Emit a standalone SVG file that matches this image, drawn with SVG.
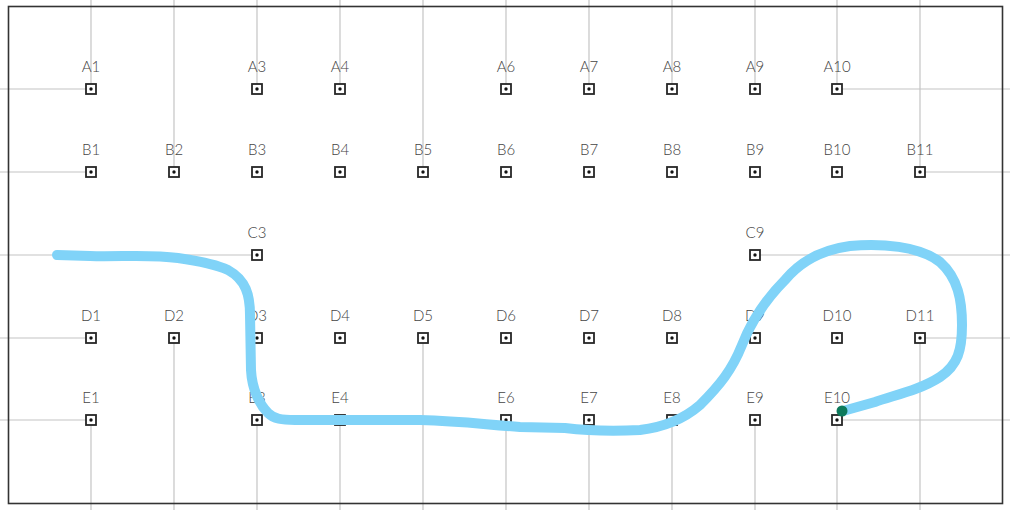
<svg xmlns="http://www.w3.org/2000/svg" width="1010" height="510" viewBox="0 0 1010 510">
<style>
.bg{fill:#ffffff}
.frame{fill:none;stroke:#333333;stroke-width:1.6}
.grid line{stroke:#c4c4c4;stroke-width:1.2}
.node text{font-family:Lato,"Liberation Sans",sans-serif;font-size:15px;font-weight:300;fill:#444444;text-anchor:middle}
.route{fill:none;stroke:#80d3f8;stroke-width:10;stroke-linecap:round;stroke-linejoin:round}
.end{fill:#0d7a5c}
</style>
<defs>
<g id="pin"><rect x="-5" y="-5" width="10" height="10" fill="#ffffff" stroke="#262626" stroke-width="1.8"/><circle r="1.7" fill="#111111"/></g>
</defs>
<rect class="bg" x="0" y="0" width="1010" height="510"/>
<g id="connectors" class="grid">
<line x1="91" y1="0" x2="91" y2="89"/>
<line x1="174" y1="0" x2="174" y2="172"/>
<line x1="257" y1="0" x2="257" y2="89"/>
<line x1="340" y1="0" x2="340" y2="89"/>
<line x1="423" y1="0" x2="423" y2="172"/>
<line x1="506" y1="0" x2="506" y2="89"/>
<line x1="589" y1="0" x2="589" y2="89"/>
<line x1="672" y1="0" x2="672" y2="89"/>
<line x1="755" y1="0" x2="755" y2="89"/>
<line x1="837" y1="0" x2="837" y2="89"/>
<line x1="920" y1="0" x2="920" y2="172"/>
<line x1="91" y1="420" x2="91" y2="510"/>
<line x1="174" y1="338" x2="174" y2="510"/>
<line x1="257" y1="420" x2="257" y2="510"/>
<line x1="340" y1="420" x2="340" y2="510"/>
<line x1="423" y1="338" x2="423" y2="510"/>
<line x1="506" y1="420" x2="506" y2="510"/>
<line x1="589" y1="420" x2="589" y2="510"/>
<line x1="672" y1="420" x2="672" y2="510"/>
<line x1="755" y1="420" x2="755" y2="510"/>
<line x1="837" y1="420" x2="837" y2="510"/>
<line x1="920" y1="338" x2="920" y2="510"/>
<line x1="0" y1="89" x2="91" y2="89"/>
<line x1="0" y1="172" x2="91" y2="172"/>
<line x1="0" y1="255" x2="257" y2="255"/>
<line x1="0" y1="338" x2="91" y2="338"/>
<line x1="0" y1="420" x2="91" y2="420"/>
<line x1="837" y1="89" x2="1010" y2="89"/>
<line x1="920" y1="172" x2="1010" y2="172"/>
<line x1="755" y1="255" x2="1010" y2="255"/>
<line x1="920" y1="338" x2="1010" y2="338"/>
<line x1="837" y1="420" x2="1010" y2="420"/>
</g>
<rect class="frame" x="8.5" y="6.5" width="994" height="497"/>
<g id="nodes">
<g id="A1" class="node" transform="translate(91,89)"><use href="#pin"/><text y="-17">A1</text></g>
<g id="A3" class="node" transform="translate(257,89)"><use href="#pin"/><text y="-17">A3</text></g>
<g id="A4" class="node" transform="translate(340,89)"><use href="#pin"/><text y="-17">A4</text></g>
<g id="A6" class="node" transform="translate(506,89)"><use href="#pin"/><text y="-17">A6</text></g>
<g id="A7" class="node" transform="translate(589,89)"><use href="#pin"/><text y="-17">A7</text></g>
<g id="A8" class="node" transform="translate(672,89)"><use href="#pin"/><text y="-17">A8</text></g>
<g id="A9" class="node" transform="translate(755,89)"><use href="#pin"/><text y="-17">A9</text></g>
<g id="A10" class="node" transform="translate(837,89)"><use href="#pin"/><text y="-17">A10</text></g>
<g id="B1" class="node" transform="translate(91,172)"><use href="#pin"/><text y="-17">B1</text></g>
<g id="B2" class="node" transform="translate(174,172)"><use href="#pin"/><text y="-17">B2</text></g>
<g id="B3" class="node" transform="translate(257,172)"><use href="#pin"/><text y="-17">B3</text></g>
<g id="B4" class="node" transform="translate(340,172)"><use href="#pin"/><text y="-17">B4</text></g>
<g id="B5" class="node" transform="translate(423,172)"><use href="#pin"/><text y="-17">B5</text></g>
<g id="B6" class="node" transform="translate(506,172)"><use href="#pin"/><text y="-17">B6</text></g>
<g id="B7" class="node" transform="translate(589,172)"><use href="#pin"/><text y="-17">B7</text></g>
<g id="B8" class="node" transform="translate(672,172)"><use href="#pin"/><text y="-17">B8</text></g>
<g id="B9" class="node" transform="translate(755,172)"><use href="#pin"/><text y="-17">B9</text></g>
<g id="B10" class="node" transform="translate(837,172)"><use href="#pin"/><text y="-17">B10</text></g>
<g id="B11" class="node" transform="translate(920,172)"><use href="#pin"/><text y="-17">B11</text></g>
<g id="C3" class="node" transform="translate(257,255)"><use href="#pin"/><text y="-17">C3</text></g>
<g id="C9" class="node" transform="translate(755,255)"><use href="#pin"/><text y="-17">C9</text></g>
<g id="D1" class="node" transform="translate(91,338)"><use href="#pin"/><text y="-17">D1</text></g>
<g id="D2" class="node" transform="translate(174,338)"><use href="#pin"/><text y="-17">D2</text></g>
<g id="D3" class="node" transform="translate(257,338)"><use href="#pin"/><text y="-17">D3</text></g>
<g id="D4" class="node" transform="translate(340,338)"><use href="#pin"/><text y="-17">D4</text></g>
<g id="D5" class="node" transform="translate(423,338)"><use href="#pin"/><text y="-17">D5</text></g>
<g id="D6" class="node" transform="translate(506,338)"><use href="#pin"/><text y="-17">D6</text></g>
<g id="D7" class="node" transform="translate(589,338)"><use href="#pin"/><text y="-17">D7</text></g>
<g id="D8" class="node" transform="translate(672,338)"><use href="#pin"/><text y="-17">D8</text></g>
<g id="D9" class="node" transform="translate(755,338)"><use href="#pin"/><text y="-17">D9</text></g>
<g id="D10" class="node" transform="translate(837,338)"><use href="#pin"/><text y="-17">D10</text></g>
<g id="D11" class="node" transform="translate(920,338)"><use href="#pin"/><text y="-17">D11</text></g>
<g id="E1" class="node" transform="translate(91,420)"><use href="#pin"/><text y="-17">E1</text></g>
<g id="E3" class="node" transform="translate(257,420)"><use href="#pin"/><text y="-17">E3</text></g>
<g id="E4" class="node" transform="translate(340,420)"><use href="#pin"/><text y="-17">E4</text></g>
<g id="E6" class="node" transform="translate(506,420)"><use href="#pin"/><text y="-17">E6</text></g>
<g id="E7" class="node" transform="translate(589,420)"><use href="#pin"/><text y="-17">E7</text></g>
<g id="E8" class="node" transform="translate(672,420)"><use href="#pin"/><text y="-17">E8</text></g>
<g id="E9" class="node" transform="translate(755,420)"><use href="#pin"/><text y="-17">E9</text></g>
<g id="E10" class="node" transform="translate(837,420)"><use href="#pin"/><text y="-17">E10</text></g>
</g>
<g id="route">
<path class="route" d="M57,255 L90,256 C120,257 150,254 178,258 C200,261 215,264 228,270 C246,280 250,295 250,315 L251,370 C252,390 260,405 268,413 C274,419 282,420 295,420 L420,420 C460,421 480,424 520,427 L565,428 C590,431 620,431 640,430 C665,427 685,418 700,405 C720,385 732,370 742,345 C752,320 765,300 785,280 C800,262 820,250 850,246 C880,243 920,246 940,262 C958,278 962,300 962,325 C962,350 958,365 940,377 C920,390 895,395 875,402 L843,411"/>
<circle class="end" cx="842" cy="411" r="5.5"/>
</g>
</svg>
